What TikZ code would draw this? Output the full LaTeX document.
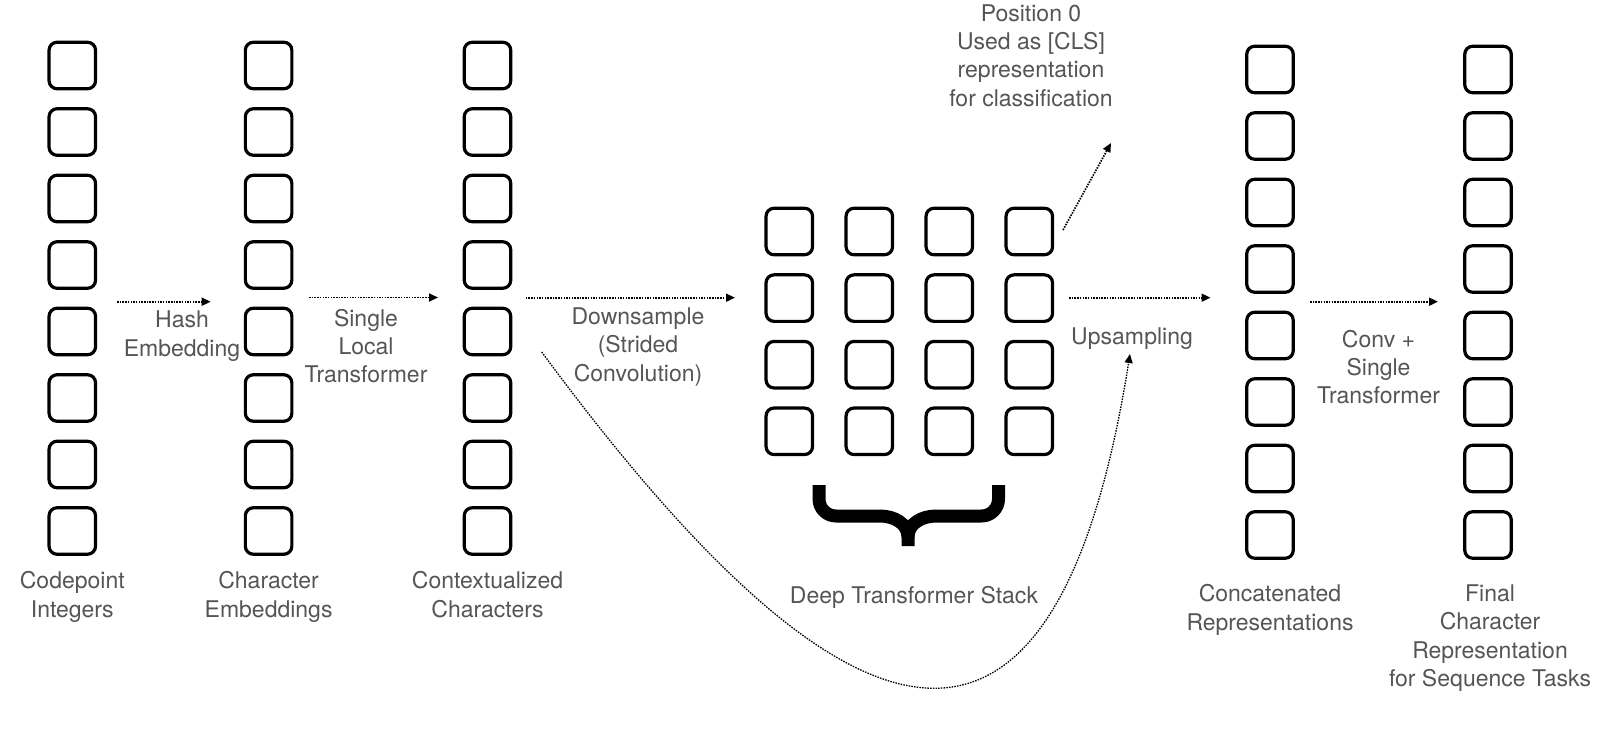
\documentclass[tikz,border=0pt]{standalone}
\usepackage{fontspec}
\setmainfont{TeX Gyre Heros}
\usetikzlibrary{arrows.meta}
\definecolor{labelgray}{HTML}{555555}

\begin{document}
\begin{tikzpicture}
      [x=1pt,y=-1pt
      ,cell/.style={draw,line width=3.2pt,rounded corners=8pt,minimum size=46.5pt,inner sep=0pt}
      ,flow/.style={line width=1.7pt,dash pattern=on 1.5pt off 1.2pt,-{Triangle[length=9pt,width=8pt]}}
      ,lbl/.style={text=labelgray,font=\fontsize{23}{28.4}\selectfont,align=center,inner sep=0pt}
      ,stackbrace/.style={line width=13pt,line join=round}
      ]
        \useasboundingbox (0,0) rectangle (1600,735);
        \foreach \name/\cx/\cy in {cp/72.3/65.5,ce/268.6/65.5,cc/487.5/65.5,cr/1270/69.5,fr/1488/69.5}
          \foreach \i in {1,...,8}
            \node[cell] (\name\i) at (\cx,{\cy+(\i-1)*66.5}) {};
        \foreach \j in {1,...,4}
          \foreach \i in {1,...,4}
            \node[cell] (ds\j\i) at ({789.3+(\i-1)*80},{231.5+(\j-1)*66.6}) {};

        \node[lbl] (cpl) at (72.3,597) {Codepoint\\Integers};
        \node[lbl] (cel) at (268.6,597) {Character\\Embeddings};
        \node[lbl] (ccl) at (487.5,594.5) {Contextualized\\Characters};
        \node[lbl] (dsl) at (914,597) {Deep Transformer Stack};
        \node[lbl] (crl) at (1270,610) {Concatenated\\Representations};
        \node[lbl] (frl) at (1490,638) {Final\\Character\\Representation\\for Sequence Tasks};
        \node[lbl] (clsl) at (1031,55.5) {Position 0\\Used as [CLS]\\representation\\for classification};
        \node[lbl] (hashl) at (182,336) {Hash\\Embedding};
        \node[lbl] (sltl) at (366,346) {Single\\Local\\Transformer};
        \node[lbl] (downl) at (638,347) {Downsample\\(Strided\\Convolution)};
        \node[lbl] (upl) at (1132,339) {Upsampling};
        \node[lbl] (convl) at (1378.5,367) {Conv +\\Single\\Transformer};

        \coordinate (hashS) at (117,301.7);
        \coordinate (hashE) at (210.7,301.7);
        \coordinate (sltS) at (309,297.5);
        \coordinate (sltE) at (438,297.5);
        \coordinate (downS) at (525.7,297.7);
        \coordinate (downE) at (735,297.7);
        \coordinate (upS) at (1069,297.7);
        \coordinate (upE) at (1210.5,297.7);
        \coordinate (convS) at (1310,301.7);
        \coordinate (convE) at (1438,301.7);
        \coordinate (clsS) at (1063,230);
        \coordinate (clsE) at (1111,143);
        \coordinate (skipS) at (541.7,352);
        \coordinate (skipE) at (1130,354);

        \draw[flow] (hashS) -- (hashE);
        \draw[flow] (sltS) -- (sltE);
        \draw[flow] (downS) -- (downE);
        \draw[flow] (upS) -- (upE);
        \draw[flow] (convS) -- (convE);
        \draw[flow] (clsS) -- (clsE);
        \draw[flow,line width=1.3pt] (skipS) .. controls (850,770) and (1055,826) .. (skipE);

        \draw[stackbrace] (819,485) -- (819,499) to[out=-90,in=180] (836,516) -- (880,516) to[out=0,in=90] (908,537) -- (908,546);
        \draw[stackbrace] (998.5,485) -- (998.5,499) to[out=-90,in=0] (981.5,516) -- (936,516) to[out=180,in=90] (908,537);
      \end{tikzpicture}
\end{document}
